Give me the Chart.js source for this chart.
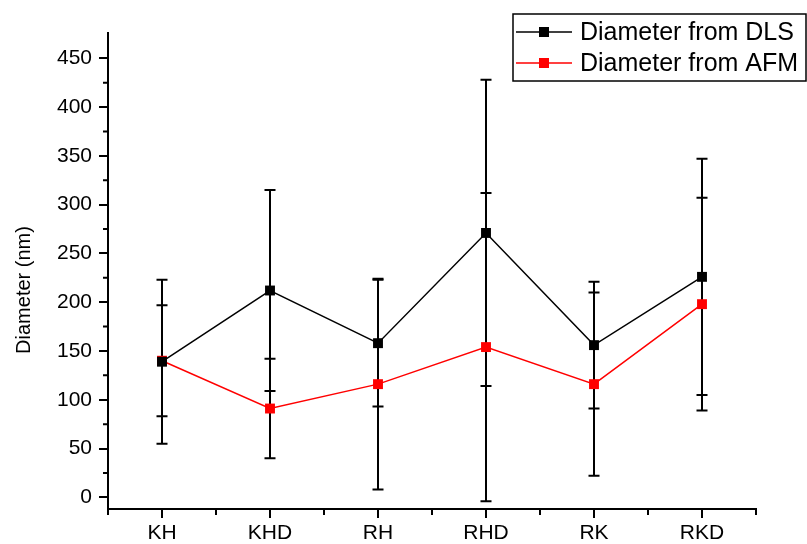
<!DOCTYPE html>
<html>
<head>
<meta charset="utf-8">
<script src="https://cdn.jsdelivr.net/npm/chart.js@4"></script>
<style>
  body { margin: 0; background: #fff; }
</style>
</head>
<body>
<canvas id="grafico" width="807" height="544"></canvas>
<script>
// datos
const muestras = ['KH', 'KHD', 'RH', 'RHD', 'RK', 'RKD'];
const diamDLS = [139, 212, 158, 271, 156, 226];
const errDLS = [84, 103, 65, 157, 65, 121];
const diamAFM = [140, 91, 116, 154, 116, 198];
const errAFM = [57, 51, 108, 158, 94, 109];
const yTicks = [0, 50, 100, 150, 200, 250, 300, 350, 400, 450];
const yMinor = [25, 75, 125, 175, 225, 275, 325, 375, 425];
const tituloY = 'Diameter (nm)';

const fuente = 'Liberation Sans, Arial, sans-serif';

// barras de error (siempre negras)
const barrasError = {
    id: 'barrasError',
    beforeDatasetsDraw(chart) {
        const ctx = chart.ctx;
        const y = chart.scales.y;
        ctx.save();
        ctx.strokeStyle = '#000000';
        ctx.lineWidth = 2;
        chart.data.datasets.forEach((ds, i) => {
            const meta = chart.getDatasetMeta(i);
            meta.data.forEach((pt, j) => {
                const v = ds.data[j];
                const e = ds.errores[j];
                const yTop = y.getPixelForValue(v + e);
                const yBot = y.getPixelForValue(v - e);
                ctx.beginPath();
                ctx.moveTo(pt.x, yTop);
                ctx.lineTo(pt.x, yBot);
                ctx.moveTo(pt.x - 5.5, yTop);
                ctx.lineTo(pt.x + 5.5, yTop);
                ctx.moveTo(pt.x - 5.5, yBot);
                ctx.lineTo(pt.x + 5.5, yBot);
                ctx.stroke();
            });
        });
        ctx.restore();
    }
};

// ticks menores, titulo del eje y y leyenda con recuadro
const extras = {
    id: 'extras',
    afterDraw(chart) {
        const ctx = chart.ctx;
        const x = chart.scales.x;
        const y = chart.scales.y;
        const area = chart.chartArea;
        ctx.save();
        ctx.strokeStyle = '#000000';
        ctx.lineWidth = 2;
        ctx.beginPath();
        yMinor.forEach(v => {
            const py = y.getPixelForValue(v);
            ctx.moveTo(area.left - 5, py);
            ctx.lineTo(area.left, py);
        });
        for (let i = 0; i <= muestras.length; i++) {
            let px;
            if (i == 0) px = area.left;
            else if (i == muestras.length) px = area.right;
            else px = (x.getPixelForValue(i - 1) + x.getPixelForValue(i)) / 2;
            ctx.moveTo(px, area.bottom);
            ctx.lineTo(px, area.bottom + 6);
        }
        ctx.stroke();

        // titulo eje y (Origin lo deja un poco mas abajo del centro)
        ctx.save();
        ctx.translate(24, 290);
        ctx.rotate(-Math.PI / 2);
        ctx.fillStyle = '#000000';
        ctx.font = '20px ' + fuente;
        ctx.textAlign = 'center';
        ctx.textBaseline = 'middle';
        ctx.fillText(tituloY, 0, 0);
        ctx.restore();

        // leyenda
        ctx.lineWidth = 1.5;
        ctx.strokeRect(513, 14, 293, 67);
        chart.data.datasets.forEach((ds, i) => {
            const cy = 32 + i * 31;
            ctx.strokeStyle = ds.borderColor;
            ctx.fillStyle = ds.borderColor;
            ctx.lineWidth = 1.5;
            ctx.beginPath();
            ctx.moveTo(516, cy);
            ctx.lineTo(572, cy);
            ctx.stroke();
            ctx.fillRect(539, cy - 5, 10, 10);
            ctx.fillStyle = '#000000';
            ctx.font = '25px ' + fuente;
            ctx.textBaseline = 'middle';
            ctx.textAlign = 'left';
            ctx.fillText(ds.label, 580, cy + 1);
        });
        ctx.restore();
    }
};

const data = {
    labels: muestras,
    datasets: [{
        label: 'Diameter from DLS',
        data: diamDLS,
        errores: errDLS,
        borderColor: '#000000',
        backgroundColor: '#000000',
        borderWidth: 1.5,
        pointStyle: 'rect',
        pointRadius: 7,
        pointBorderWidth: 0,
    }, {
        label: 'Diameter from AFM',
        data: diamAFM,
        errores: errAFM,
        borderColor: '#ff0000',
        backgroundColor: '#ff0000',
        borderWidth: 1.5,
        pointStyle: 'rect',
        pointRadius: 7,
        pointBorderWidth: 0,
    }]
};

const options = {
    responsive: false,
    animation: false,
    layout: { padding: { left: 0, top: 33, right: 51, bottom: 0 } },
    plugins: {
        legend: { display: false },
        tooltip: { enabled: false },
    },
    scales: {
        x: {
            type: 'category',
            offset: true,
            afterFit: s => { s.height = 35; },
            grid: { offset: false, drawOnChartArea: false, drawTicks: true, tickLength: 9, color: '#000000', lineWidth: 2 },
            border: { display: true, color: '#000000', width: 2 },
            ticks: { color: '#000000', font: { family: fuente, size: 21 }, padding: 3, maxRotation: 0 },
        },
        y: {
            min: -12,
            max: 476,
            afterFit: s => { s.width = 108; },
            afterBuildTicks: s => { s.ticks = yTicks.map(v => ({ value: v })); },
            grid: { drawOnChartArea: false, drawTicks: true, tickLength: 9, color: '#000000', lineWidth: 2 },
            border: { display: true, color: '#000000', width: 2 },
            ticks: { color: '#000000', font: { family: fuente, size: 21 }, padding: 7 },
            title: { display: false },
        }
    }
};

new Chart('grafico', {
    type: 'line',
    data,
    options,
    plugins: [barrasError, extras]
});
</script>
</body>
</html>
